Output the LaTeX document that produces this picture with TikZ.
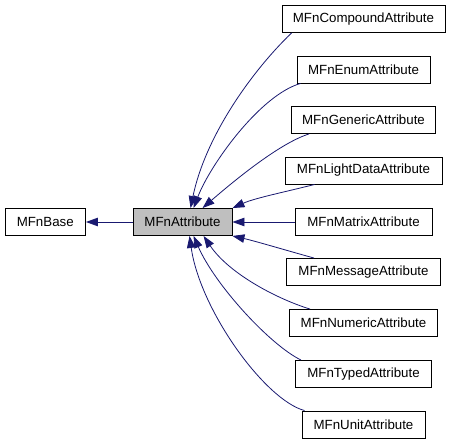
\documentclass[tikz,border=0pt]{standalone}
\usepackage{fontspec}
\setmainfont{Liberation Sans}
\usetikzlibrary{arrows.meta}
\definecolor{edgeblue}{HTML}{191970}
\definecolor{boxgray}{HTML}{BFBFBF}
\begin{document}
\begin{tikzpicture}[x=1pt,y=-1pt,
  cls/.style={draw=black,line width=0.9pt,fill=white,minimum height=27pt,inner sep=0pt,
    font=\fontsize{13.3}{16}\selectfont},
  cur/.style={cls,fill=boxgray},
  inh/.style={draw=edgeblue,line width=0.8pt,-{Triangle[length=12pt,width=8.5pt]},fill=none},
]
\useasboundingbox (0,0) rectangle (450,442);
\node[cls,minimum width=80.5pt] (base) at (45.25,222) {MFnBase};
\node[cur,minimum width=99pt] (attr) at (182.5,222) {MFnAttribute};
\node[cls,minimum width=163pt] (cmp) at (363.5,19) {MFnCompoundAttribute};
\node[cls,minimum width=133pt] (enm) at (363.5,69.5) {MFnEnumAttribute};
\node[cls,minimum width=144pt] (gen) at (363.5,120) {MFnGenericAttribute};
\node[cls,minimum width=157pt] (lgt) at (363.5,170.5) {MFnLightDataAttribute};
\node[cls,minimum width=137pt] (mat) at (363.5,222) {MFnMatrixAttribute};
\node[cls,minimum width=154pt] (msg) at (363.5,272) {MFnMessageAttribute};
\node[cls,minimum width=148pt] (num) at (363.5,323) {MFnNumericAttribute};
\node[cls,minimum width=136pt] (typ) at (363.5,374) {MFnTypedAttribute};
\node[cls,minimum width=123pt] (uni) at (363.5,424.5) {MFnUnitAttribute};

\draw[inh] (attr.west) -- (base.east);
\draw[inh] ([xshift=10pt]cmp.south west) .. controls (250,73) and (205,138) .. ([xshift=58pt]attr.north west);
\draw[inh] ([xshift=4pt]enm.south west) .. controls (260,95) and (210,165) .. ([xshift=61pt]attr.north west);
\draw[inh] ([xshift=18pt]gen.south west) .. controls (280,143) and (235,180) .. ([xshift=70pt]attr.north west);
\draw[inh] ([xshift=30pt]lgt.south west) .. controls (285,192) and (255,198) .. (attr.north east);
\draw[inh] (mat.west) -- (attr.east);
\draw[inh] ([xshift=28pt]msg.north west) .. controls (285,250) and (255,241) .. (attr.south east);
\draw[inh] ([xshift=21pt]num.north west) .. controls (280,300) and (230,275) .. ([xshift=71pt]attr.south west);
\draw[inh] ([xshift=6pt]typ.north west) .. controls (270,345) and (215,285) .. ([xshift=61pt]attr.south west);
\draw[inh] ([xshift=3pt]uni.north west) .. controls (265,400) and (200,310) .. ([xshift=57pt]attr.south west);
\end{tikzpicture}
\end{document}
